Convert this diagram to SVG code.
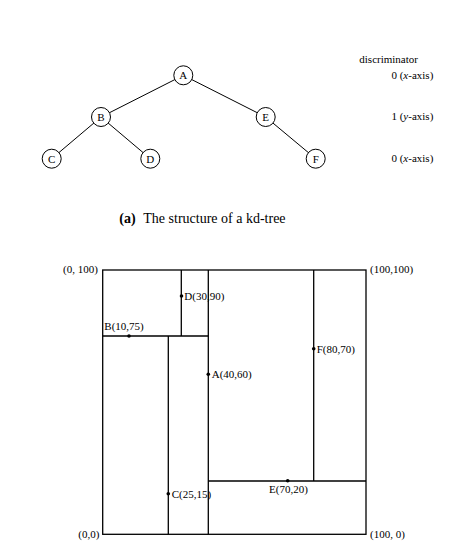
<svg xmlns="http://www.w3.org/2000/svg" width="473" height="551" viewBox="0 0 473 551">
<style>
text { font-family: "Liberation Serif", "Times New Roman", serif; fill: #000; }
.nd circle { fill: #fff; stroke: #000; stroke-width: 1; }
.nd text { font-size: 11px; text-anchor: middle; }
.edge { stroke: #000; stroke-width: 1; fill: none; }
.lbl { font-size: 11px; }
.cap { font-size: 14px; }
.part { stroke: #000; stroke-width: 1.3; fill: none; }
.pt { fill: #000; }
</style>
<rect width="473" height="551" fill="#fff"/>
<g id="connectors">
<line class="edge" x1="183.3" y1="75.3" x2="101" y2="117"/>
<line class="edge" x1="183.3" y1="75.3" x2="265.7" y2="117"/>
<line class="edge" x1="101" y1="117" x2="51.7" y2="158.7"/>
<line class="edge" x1="101" y1="117" x2="150.3" y2="158.7"/>
<line class="edge" x1="265.7" y1="117" x2="315.7" y2="158.7"/>
</g>
<g id="node-A" class="nd"><circle cx="183.3" cy="75.3" r="9.5"/><text x="183.3" y="79.3">A</text></g>
<g id="node-B" class="nd"><circle cx="101" cy="117" r="9.5"/><text x="101" y="121">B</text></g>
<g id="node-E" class="nd"><circle cx="265.7" cy="117" r="9.5"/><text x="265.7" y="121">E</text></g>
<g id="node-C" class="nd"><circle cx="51.7" cy="158.7" r="9.5"/><text x="51.7" y="162.7">C</text></g>
<g id="node-D" class="nd"><circle cx="150.3" cy="158.7" r="9.5"/><text x="150.3" y="162.7">D</text></g>
<g id="node-F" class="nd"><circle cx="315.7" cy="158.7" r="9.5"/><text x="315.7" y="162.7">F</text></g>
<g id="discriminator">
<text class="lbl" x="359.3" y="63">discriminator</text>
<text class="lbl" x="433.3" y="79" text-anchor="end">0 (<tspan font-style="italic">x</tspan>-axis)</text>
<text class="lbl" x="433.3" y="120" text-anchor="end">1 (<tspan font-style="italic">y</tspan>-axis)</text>
<text class="lbl" x="433.3" y="162" text-anchor="end">0 (<tspan font-style="italic">x</tspan>-axis)</text>
</g>
<g id="caption">
<text class="cap" x="119.3" y="222.7" font-weight="bold">(a)</text>
<text class="cap" x="143.3" y="222.7">The structure of a kd-tree</text>
</g>
<g id="partition">
<rect class="part" x="102.7" y="270" width="263.3" height="264.3"/>
<line class="part" x1="208.3" y1="270" x2="208.3" y2="534.3"/>
<line class="part" x1="102.7" y1="336" x2="208.3" y2="336"/>
<line class="part" x1="181.3" y1="270" x2="181.3" y2="336"/>
<line class="part" x1="168.3" y1="336" x2="168.3" y2="534.3"/>
<line class="part" x1="208.3" y1="481" x2="366" y2="481"/>
<line class="part" x1="313.7" y1="270" x2="313.7" y2="481"/>
</g>
<g id="points">
<circle class="pt" cx="181.5" cy="296" r="1.8"/>
<circle class="pt" cx="129" cy="336" r="1.8"/>
<circle class="pt" cx="208.3" cy="374.3" r="1.8"/>
<circle class="pt" cx="313.7" cy="348.7" r="1.8"/>
<circle class="pt" cx="168.3" cy="493.7" r="1.8"/>
<circle class="pt" cx="287.7" cy="480.7" r="1.8"/>
</g>
<g id="labels">
<text class="lbl" x="63" y="273">(0, 100)</text>
<text class="lbl" x="370" y="273">(100,100)</text>
<text class="lbl" x="184.3" y="299.5">D(30,90)</text>
<text class="lbl" x="104.3" y="329.5">B(10,75)</text>
<text class="lbl" x="211.7" y="378">A(40,60)</text>
<text class="lbl" x="316.7" y="352.5">F(80,70)</text>
<text class="lbl" x="171.7" y="497.5">C(25,15)</text>
<text class="lbl" x="269" y="492.5">E(70,20)</text>
<text class="lbl" x="78.3" y="538">(0,0)</text>
<text class="lbl" x="370" y="538">(100, 0)</text>
</g>
</svg>
